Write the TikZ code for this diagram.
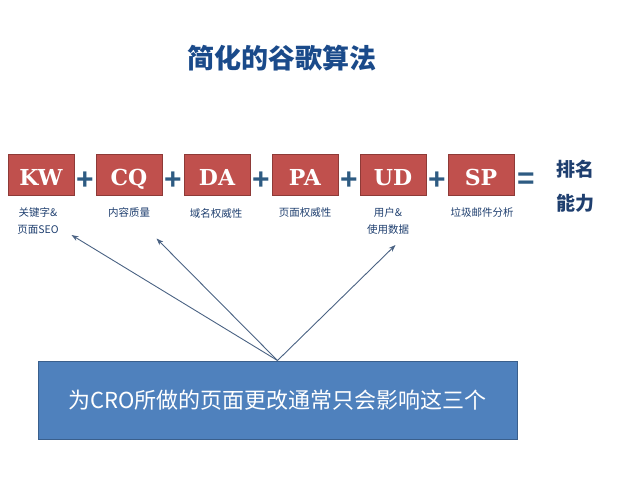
\documentclass[tikz,border=0pt]{standalone}
\usepackage{fontspec}
\newfontfamily\cjk{Noto Sans CJK SC}
\newfontfamily\slab{DejaVu Serif}[BoldFont={DejaVu Serif Bold}]
\newfontfamily\lsans{Liberation Sans}
\usetikzlibrary{arrows.meta}
\definecolor{redfill}{HTML}{C0504D}
\definecolor{redline}{HTML}{8E3A37}
\definecolor{bluefill}{HTML}{4F81BD}
\definecolor{blueline}{HTML}{3A5F8C}
\definecolor{titleblue}{HTML}{1A4A8A}
\definecolor{labelblue}{HTML}{1F3F6F}
\definecolor{plusblue}{HTML}{2E5B82}
\definecolor{arrowcol}{HTML}{4A6283}
\tikzset{
  factor/.style={draw=redline, line width=1pt, fill=redfill, minimum width=66pt, minimum height=41pt, inner sep=0pt, text height=20pt, text depth=-4pt, text=white, font=\slab\bfseries\fontsize{22}{22}\selectfont},
  op/.style={text=plusblue, font=\lsans\bfseries\fontsize{30}{30}\selectfont, inner sep=0pt},
  lbl/.style={text=labelblue, font=\cjk\fontsize{10.5}{17}\selectfont, align=center, inner sep=0pt},
  ptr/.style={draw=arrowcol, line width=0.9pt, -{Stealth[length=7pt,width=5pt]}}
}
\begin{document}
\begin{tikzpicture}[x=1pt,y=-1pt]
\useasboundingbox (0,0) rectangle (638,479);
\node[text=titleblue, font=\cjk\bfseries\fontsize{27}{27}\selectfont] (title) at (282,58) {简化的谷歌算法};
\node[factor] (kw) at (41,175) {KW};
\node[factor] (cq) at (129,175) {CQ};
\node[factor] (da) at (217,175) {DA};
\node[factor] (pa) at (305,175) {PA};
\node[factor] (ud) at (393,175) {UD};
\node[factor] (sp) at (481,175) {SP};
\node[op] (p1) at (85,181) {+};
\node[op] (p2) at (173,181) {+};
\node[op] (p3) at (261,181) {+};
\node[op] (p4) at (349,181) {+};
\node[op] (p5) at (437,181) {+};
\node[op] (eq) at (526,181) {=};
\node[text=labelblue, font=\cjk\bfseries\fontsize{19}{34}\selectfont, align=left, inner sep=0pt] (rank) at (575,186) {排名\\能力};
\node[lbl] (l1) at (38,221) {关键字\&\\页面SEO};
\node[lbl] (l2) at (129,212) {内容质量};
\node[lbl] (l3) at (216,214) {域名权威性};
\node[lbl] (l4) at (305,213) {页面权威性};
\node[lbl] (l5) at (388,221) {用户\&\\使用数据};
\node[lbl] (l6) at (482,212) {垃圾邮件分析};
\node[draw=blueline, line width=1pt, fill=bluefill, minimum width=479pt, minimum height=78pt, inner sep=0pt, text=white, font=\cjk\fontsize{22}{22}\selectfont] (cro) at (277.5,400) {为CRO所做的页面更改通常只会影响这三个};
\coordinate (t1) at (71.5,235);
\coordinate (t2) at (156.5,238.5);
\coordinate (t3) at (395.5,245);
\draw[ptr] (cro.north) -- (t1);
\draw[ptr] (cro.north) -- (t2);
\draw[ptr] (cro.north) -- (t3);
\end{tikzpicture}
\end{document}
